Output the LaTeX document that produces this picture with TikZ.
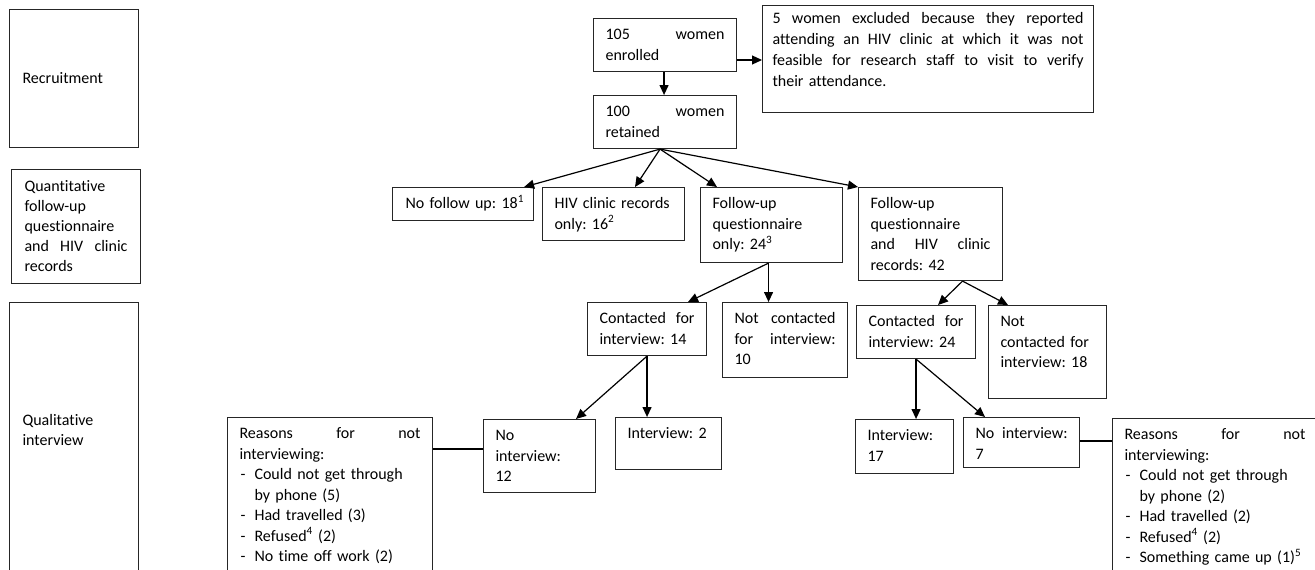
\documentclass[tikz,border=0pt]{standalone}
\usepackage{fontspec}
\setmainfont{Carlito}[Ligatures=NoCommon]
\frenchspacing
\usetikzlibrary{arrows.meta,calc}
\tikzset{
  bx/.style={draw=black!85, line width=1.1pt, anchor=north west, inner xsep=12pt, inner ysep=7pt,
    text height=14pt, align=left, font=\fontsize{16}{20.5}\selectfont\frenchspacing},
  side/.style={draw=black!85, line width=1.1pt, anchor=north west, inner xsep=13pt, inner ysep=0pt,
    align=left, font=\fontsize{16}{20}\selectfont\frenchspacing},
  arr/.style={line width=1.2pt, -{Triangle[length=10pt,width=9pt]}},
  ln/.style={line width=1.1pt},
}
\newcommand\bx[7][]{\pgfmathsetmacro\bxtw{#5-24}\pgfmathsetmacro\bxtd{#6-28}%
  \node[bx, minimum width=#5pt, text width=\bxtw pt, text depth=\bxtd pt, #1] (#2) at (#3,#4) {#7};}
\newcommand\ritem[1]{\makebox[15pt][l]{\hspace{1pt}-}#1}
\newcommand\rcont[1]{\hspace*{15pt}#1}
\begin{document}
\begin{tikzpicture}[x=1pt,y=-1pt]
\useasboundingbox (0,0) rectangle (1315,570);
\clip (0,0) rectangle (1315,570);
% left column
\node[side, minimum width=129pt, minimum height=138pt, text width=103pt] (rec) at (9,9) {Recruitment};
\node[side, minimum width=129pt, minimum height=114pt, text width=103pt] (qnt) at (11,169)
  {Quantitative\\follow-up\\questionnaire\\and\hfill HIV\hfill clinic\\records};
\node[side, minimum width=129pt, inner ysep=7pt, text width=103pt, text height=116pt, text depth=200pt] (qal) at (9,302)
  {Qualitative\\interview};
% top
\bx{enr}{593}{18}{143}{53}{105\hfill women\\enrolled}
\bx[text width=311pt, inner xsep=10pt, text height=11pt, text depth=82pt, font=\fontsize{16}{21}\selectfont\frenchspacing]{exc}{762}{5}{331}{107}
  {5\hfill women\hfill excluded\hfill because\hfill they\hfill reported\\
   attending\hfill an\hfill HIV\hfill clinic\hfill at\hfill which\hfill it\hfill was\hfill not\\
   feasible\hfill for\hfill research\hfill staff\hfill to\hfill visit\hfill to\hfill verify\\
   their attendance.}
\bx{ret}{593}{95}{143}{53}{100\hfill women\\retained}
% second level
\bx[text width=123pt, inner xsep=9pt]{nfu}{392}{187}{141}{33}{\hspace*{4pt}No follow up: 18\textsuperscript{1}}
\bx{hiv}{542}{187}{142}{53}{HIV clinic records\\only: 16\textsuperscript{2}}
\bx{fqo}{700}{187}{142}{75}{Follow-up\\questionnaire\\only: 24\textsuperscript{3}}
\bx{fqh}{858}{187}{144}{93}{Follow-up\\questionnaire\\and\hfill HIV\hfill clinic\\records: 42}
% third level
\bx{c14}{587}{302}{119}{53}{Contacted\hfill for\\interview: 14}
\bx{n10}{722}{302}{125}{75}{Not\hfill contacted\\for\hfill interview:\\10}
\bx{c24}{856}{305}{119}{53}{Contacted\hfill for\\interview: 24}
\bx{n18}{988}{305}{118}{93}{Not\\contacted for\\interview: 18}
% fourth level
\bx{ni12}{483}{419}{112}{73}{No\\interview:\\12}
\bx{i2}{615}{417}{106}{52}{Interview: 2}
\bx{i17}{855}{419}{98}{54}{Interview:\\17}
\bx{ni7}{963}{417}{116}{50}{No\hfill interview:\\7}
\bx[text depth=180pt]{rl}{227}{417}{205}{200}{Reasons\hfill for\hfill not\\interviewing:\\
  \ritem{Could not get through}\\\rcont{by phone (5)}\\\ritem{Had travelled (3)}\\
  \ritem{Refused\textsuperscript{4} (2)}\\\ritem{No time off work (2)}}
\bx[text depth=180pt]{rr}{1112}{418}{205}{200}{Reasons\hfill for\hfill not\\interviewing:\\
  \ritem{Could not get through}\\\rcont{by phone (2)}\\\ritem{Had travelled (2)}\\
  \ritem{Refused\textsuperscript{4} (2)}\\\ritem{Something came up (1)\textsuperscript{5}}}
% connectors
\coordinate (e1) at ($(enr.north east)+(0,42)$);
\draw[arr] (e1) -- (e1 -| exc.west);
\coordinate (enrS) at ($(enr.south)+(-1,0)$);
\draw[arr] (enrS) -- (enrS |- ret.north);
\coordinate (retS) at ($(ret.south)+(-5,0)$);
\draw[arr] (retS) -- ($(nfu.north east)+(-10,0)$);
\draw[arr] (retS) -- ($(hiv.north west)+(93,0)$);
\draw[arr] (retS) -- ($(fqo.north west)+(17,0)$);
\draw[arr] (retS) -- (fqh.north west);
\coordinate (fqoS) at ($(fqo.south)+(-3,0)$);
\draw[arr] (fqoS) -- ($(c14.north west)+(101,0)$);
\draw[arr] (fqoS) -- (fqoS |- n10.north);
\coordinate (fqhS) at ($(fqh.south)+(32,0)$);
\draw[arr] (fqhS) -- ($(c24.north west)+(82,0)$);
\draw[arr] (fqhS) -- ($(n18.north west)+(20,0)$);
\coordinate (c14S) at (c14.south);
\draw[arr] (c14S) -- ($(ni12.north west)+(93,0)$);
\draw[arr] (c14S) -- (c14S |- i2.north);
\coordinate (c24S) at (c24.south);
\draw[arr] (c24S) -- (c24S |- i17.north);
\draw[arr] (c24S) -- ($(ni7.north west)+(22,0)$);
\coordinate (l1) at ($(ni12.north west)+(0,30)$);
\draw[ln] (rl.east |- l1) -- (l1);
\coordinate (l2) at ($(ni7.north east)+(0,24)$);
\draw[ln] (l2) -- (l2 -| rr.west);
\end{tikzpicture}
\end{document}
